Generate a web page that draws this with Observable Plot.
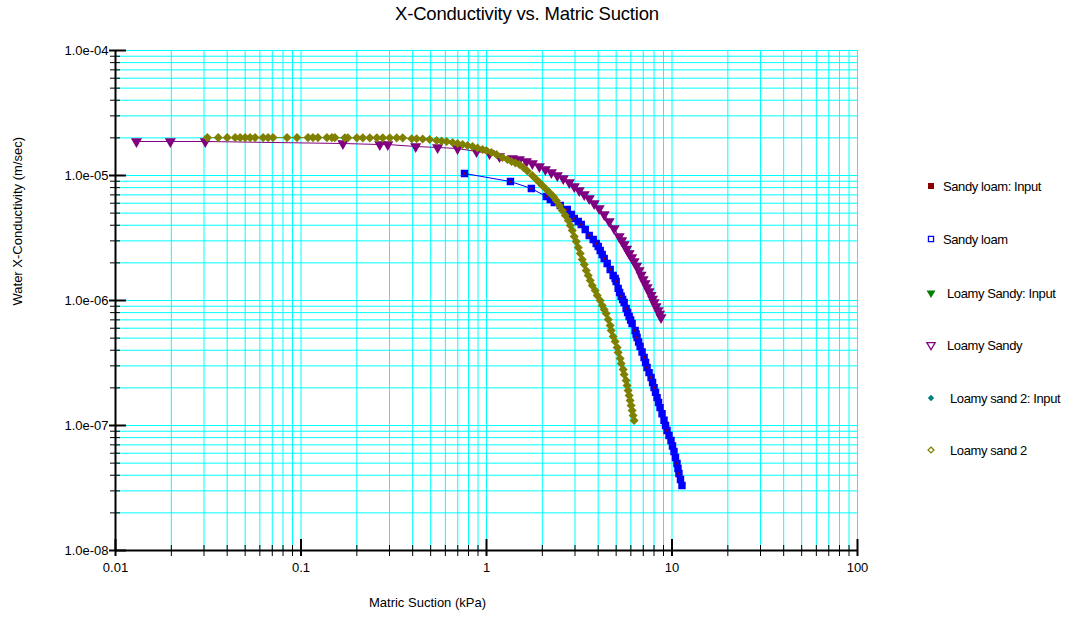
<!DOCTYPE html>
<html>
<head>
<meta charset="utf-8">
<script src="https://cdn.jsdelivr.net/npm/d3@7"></script>
<script src="https://cdn.jsdelivr.net/npm/@observablehq/plot@0.6"></script>
<style>
  html, body { margin: 0; padding: 0; background: #ffffff; }
  #wrap { position: relative; width: 1068px; height: 620px; font-family: "Liberation Sans", Arial, sans-serif; color: #000; }
  #chart { position: absolute; left: 0; top: 0; }
  #title { position: absolute; left: -7px; top: 4px; width: 1068px; text-align: center; font-size: 18.5px; line-height: 20px; letter-spacing: -0.2px; }
  #legend { position: absolute; left: 900px; top: 160px; overflow: visible; }
</style>
</head>
<body>
<div id="wrap">
  <div id="chart"></div>
  <div id="title"></div>
  <svg id="legend" width="168" height="320"></svg>
</div>
<script>
// ---------- texts ----------
const chartTitle = "X-Conductivity vs. Matric Suction";
const xAxisTitle = "Matric Suction (kPa)";
const yAxisTitle = "Water X-Conductivity (m/sec)";

// ---------- ticks ----------
const xMajorTicks = [0.01, 0.1, 1, 10, 100];
const xTickLabels = ["0.01", "0.1", "1", "10", "100"];
const yMajorTicks = [1e-8, 1e-7, 1e-6, 1e-5, 1e-4];
const yTickLabels = ["1.0e-08", "1.0e-07", "1.0e-06", "1.0e-05", "1.0e-04"];
const minorMultipliers = [2, 3, 4, 5, 6, 7, 8, 9];

// ---------- series ----------
const seriesNames = ["Sandy loam: Input", "Sandy loam", "Loamy Sandy: Input", "Loamy Sandy", "Loamy sand 2: Input", "Loamy sand 2"];
const seriesColors = ["#8b0000", "#0000ff", "#008000", "#800080", "#008080", "#808000"];

// Sandy loam (computed)
const sandyLoamSuction = [0.761, 1.346, 1.745, 2.102, 2.208, 2.321, 2.499, 2.726, 2.864, 2.972, 3.123, 3.242, 3.406, 3.579, 3.761, 3.903, 4.001, 4.101, 4.204, 4.309, 4.472, 4.642, 4.817, 4.938, 5.000, 5.126, 5.221, 5.319, 5.418, 5.520, 5.659, 5.764, 5.873, 5.983, 6.094, 6.325, 6.404, 6.483, 6.605, 6.730, 6.897, 7.071, 7.203, 7.338, 7.521, 7.713, 7.856, 8.004, 8.152, 8.307, 8.461, 8.621, 8.837, 9.057, 9.228, 9.400, 9.636, 9.876, 10.06, 10.25, 10.44, 10.64, 10.77, 10.90, 11.11, 11.32];
const sandyLoamK = [1.038e-5, 8.95e-6, 7.87e-6, 6.79e-6, 6.43e-6, 6.08e-6, 5.75e-6, 5.35e-6, 4.88e-6, 4.53e-6, 4.29e-6, 4.06e-6, 3.70e-6, 3.31e-6, 3.08e-6, 2.86e-6, 2.70e-6, 2.51e-6, 2.33e-6, 2.17e-6, 1.98e-6, 1.77e-6, 1.585e-6, 1.50e-6, 1.42e-6, 1.25e-6, 1.16e-6, 1.08e-6, 1.02e-6, 9.64e-7, 8.63e-7, 8.02e-7, 7.45e-7, 6.98e-7, 6.55e-7, 5.75e-7, 5.40e-7, 5.06e-7, 4.66e-7, 4.29e-7, 3.87e-7, 3.50e-7, 3.19e-7, 2.91e-7, 2.65e-7, 2.42e-7, 2.21e-7, 2.01e-7, 1.84e-7, 1.67e-7, 1.53e-7, 1.39e-7, 1.24e-7, 1.10e-7, 1.0e-7, 9.12e-8, 8.32e-8, 7.59e-8, 6.86e-8, 6.19e-8, 5.55e-8, 4.97e-8, 4.53e-8, 4.13e-8, 3.70e-8, 3.31e-8];

// Sandy loam: Input
const sandyLoamInputSuction = [0.761, 1.346, 1.745, 2.102, 2.321, 2.726, 2.972, 3.242, 3.579, 3.903, 4.309, 4.642, 5.000, 5.319, 5.659, 6.325, 6.483, 7.071, 7.338, 7.713, 8.004, 9.400, 10.64, 10.90];
const sandyLoamInputK = [1.038e-5, 8.95e-6, 7.87e-6, 6.79e-6, 6.08e-6, 5.35e-6, 4.53e-6, 4.06e-6, 3.31e-6, 2.86e-6, 2.17e-6, 1.77e-6, 1.42e-6, 1.08e-6, 8.63e-7, 5.75e-7, 5.06e-7, 3.50e-7, 2.91e-7, 2.42e-7, 2.01e-7, 9.12e-8, 4.97e-8, 4.13e-8];

// Loamy Sandy (computed)
const loamySandySuction = [0.01297, 0.01975, 0.03048, 0.1682, 0.2659, 0.2936, 0.4152, 0.5452, 0.6983, 0.8835, 1.038, 1.175, 1.380, 1.504, 1.641, 1.767, 1.927, 2.076, 2.236, 2.408, 2.594, 2.795, 2.972, 3.162, 3.364, 3.579, 3.807, 4.050, 4.309, 4.584, 4.877, 5.189, 5.352, 5.520, 5.694, 5.873, 6.058, 6.247, 6.444, 6.646, 6.813, 6.984, 7.159, 7.338, 7.521, 7.713, 7.856, 8.004, 8.203, 8.409, 8.567, 8.727];
const loamySandyK = [1.871e-5, 1.871e-5, 1.871e-5, 1.803e-5, 1.770e-5, 1.770e-5, 1.706e-5, 1.675e-5, 1.644e-5, 1.556e-5, 1.500e-5, 1.419e-5, 1.368e-5, 1.343e-5, 1.294e-5, 1.247e-5, 1.180e-5, 1.117e-5, 1.057e-5, 1.0e-5, 9.46e-6, 8.79e-6, 8.17e-6, 7.59e-6, 7.05e-6, 6.55e-6, 5.97e-6, 5.45e-6, 4.88e-6, 4.29e-6, 3.77e-6, 3.25e-6, 3.02e-6, 2.81e-6, 2.58e-6, 2.38e-6, 2.21e-6, 2.05e-6, 1.89e-6, 1.74e-6, 1.60e-6, 1.47e-6, 1.37e-6, 1.27e-6, 1.18e-6, 1.10e-6, 1.03e-6, 9.64e-7, 8.95e-7, 8.32e-7, 7.80e-7, 7.31e-7];

// Loamy Sandy: Input
const loamySandyInputSuction = [0.01297, 0.01975, 0.03048, 0.1682, 0.2936, 0.5452, 0.8835, 1.175, 1.504, 1.927, 2.408, 2.972, 3.579, 4.309, 5.189, 6.247, 7.338, 8.727];
const loamySandyInputK = [1.871e-5, 1.871e-5, 1.871e-5, 1.803e-5, 1.770e-5, 1.675e-5, 1.556e-5, 1.419e-5, 1.343e-5, 1.180e-5, 1.0e-5, 8.17e-6, 6.55e-6, 4.88e-6, 3.25e-6, 2.05e-6, 1.27e-6, 7.31e-7];

// Loamy sand 2 (computed)
const loamySand2Suction = [0.03125, 0.03580, 0.04001, 0.04417, 0.04699, 0.05000, 0.05318, 0.05657, 0.06247, 0.06646, 0.07068, 0.08408, 0.09517, 0.1091, 0.1160, 0.1234, 0.1379, 0.1468, 0.1523, 0.1724, 0.1789, 0.2000, 0.2154, 0.2349, 0.2563, 0.2760, 0.3010, 0.3281, 0.3535, 0.3951, 0.4203, 0.4529, 0.4938, 0.5385, 0.5728, 0.6094, 0.6566, 0.6983, 0.7429, 0.7902, 0.8409, 0.8946, 0.9517, 1.000, 1.064, 1.132, 1.219, 1.297, 1.363, 1.432, 1.504, 1.581, 1.661, 1.767, 1.857, 1.927, 2.000, 2.102, 2.182, 2.293, 2.379, 2.469, 2.562, 2.659, 2.760, 2.829, 2.900, 2.972, 3.046, 3.123, 3.202, 3.281, 3.364, 3.448, 3.535, 3.623, 3.714, 3.855, 3.952, 4.101, 4.204, 4.309, 4.417, 4.528, 4.642, 4.699, 4.817, 4.938, 5.062, 5.125, 5.254, 5.319, 5.452, 5.520, 5.658, 5.728, 5.800, 5.872, 5.946, 6.019, 6.094, 6.170, 6.247];
const loamySand2K = [2.01e-5, 2.01e-5, 2.01e-5, 2.01e-5, 2.01e-5, 2.01e-5, 2.01e-5, 2.01e-5, 2.01e-5, 2.01e-5, 2.01e-5, 2.01e-5, 2.01e-5, 2.01e-5, 2.01e-5, 2.01e-5, 2.01e-5, 2.01e-5, 2.01e-5, 2.0e-5, 2.0e-5, 2.0e-5, 2.0e-5, 2.0e-5, 2.0e-5, 2.0e-5, 2.0e-5, 2.0e-5, 2.0e-5, 1.97e-5, 1.97e-5, 1.96e-5, 1.94e-5, 1.905e-5, 1.888e-5, 1.871e-5, 1.837e-5, 1.803e-5, 1.770e-5, 1.738e-5, 1.706e-5, 1.660e-5, 1.614e-5, 1.585e-5, 1.528e-5, 1.472e-5, 1.393e-5, 1.343e-5, 1.294e-5, 1.259e-5, 1.225e-5, 1.159e-5, 1.086e-5, 1.000e-5, 9.29e-6, 8.79e-6, 8.32e-6, 7.73e-6, 7.31e-6, 6.79e-6, 6.31e-6, 5.75e-6, 5.25e-6, 4.79e-6, 4.37e-6, 3.98e-6, 3.63e-6, 3.25e-6, 2.96e-6, 2.65e-6, 2.38e-6, 2.13e-6, 1.94e-6, 1.74e-6, 1.585e-6, 1.445e-6, 1.318e-6, 1.202e-6, 1.096e-6, 1.000e-6, 9.12e-7, 8.47e-7, 7.87e-7, 7.05e-7, 6.31e-7, 5.75e-7, 5.15e-7, 4.70e-7, 4.21e-7, 3.84e-7, 3.44e-7, 3.13e-7, 2.81e-7, 2.56e-7, 2.29e-7, 2.09e-7, 1.905e-7, 1.738e-7, 1.585e-7, 1.445e-7, 1.318e-7, 1.202e-7, 1.096e-7];

// Loamy sand 2: Input
const loamySand2InputSuction = [0.03125, 0.05000, 0.1091, 0.2000, 0.3010, 0.4938, 0.7902, 1.064, 1.504, 2.000, 2.562, 3.123, 3.714, 4.309, 4.938, 5.520, 6.247];
const loamySand2InputK = [2.01e-5, 2.01e-5, 2.01e-5, 2.0e-5, 2.0e-5, 1.94e-5, 1.738e-5, 1.528e-5, 1.225e-5, 8.32e-6, 5.25e-6, 2.65e-6, 1.318e-6, 8.47e-7, 4.70e-7, 2.56e-7, 1.096e-7];

// ---------- build tables ----------
const toRows = (sx, sk) => sx.map((s, i) => ({s, k: sk[i]}));
const sandyLoam = toRows(sandyLoamSuction, sandyLoamK);
const sandyLoamInput = toRows(sandyLoamInputSuction, sandyLoamInputK);
const loamySandy = toRows(loamySandySuction, loamySandyK);
const loamySandyInput = toRows(loamySandyInputSuction, loamySandyInputK);
const loamySand2 = toRows(loamySand2Suction, loamySand2K);
const loamySand2Input = toRows(loamySand2InputSuction, loamySand2InputK);

const xMinor = xMajorTicks.slice(0, -1).flatMap(t => minorMultipliers.map(m => t * m));
const yMinor = yMajorTicks.slice(0, -1).flatMap(t => minorMultipliers.map(m => t * m));

// custom down-pointing triangle symbol
const triangleDown = {
  draw(context, size) {
    const a = Math.sqrt(4 * size / Math.sqrt(3));
    const h = Math.sqrt(3) / 2 * a;
    context.moveTo(-a / 2, -h / 3);
    context.lineTo(a / 2, -h / 3);
    context.lineTo(0, 2 * h / 3);
    context.closePath();
  }
};

const W = 1068, H = 620;
const mL = 115, mR = 211, mT = 50, mB = 70;
const frameW = W - mL - mR, frameH = H - mT - mB;
const FS = 13;

const plot = Plot.plot({
  width: W,
  height: H,
  marginLeft: mL,
  marginRight: mR,
  marginTop: mT,
  marginBottom: mB,
  x: {type: "log", domain: [0.01, 100], axis: null},
  y: {type: "log", domain: [1e-8, 1e-4], axis: null},
  style: {fontFamily: "'Liberation Sans', Arial, sans-serif", fontSize: "13px", background: "#ffffff", color: "#000000", overflow: "visible"},
  marks: [
    // grid
    Plot.ruleX([...xMajorTicks, ...xMinor], {x: d => d, stroke: "#00ffff", strokeWidth: 1, strokeOpacity: 1}),
    Plot.ruleY([...yMajorTicks, ...yMinor], {y: d => d, stroke: "#00ffff", strokeWidth: 1, strokeOpacity: 1}),

    // Sandy loam (thick squares look solid; input squares show in their centres)
    Plot.line(sandyLoam, {x: "s", y: "k", stroke: seriesColors[1], strokeWidth: 1}),
    Plot.dot(sandyLoam, {x: "s", y: "k", symbol: "square", r: 3.4, fill: seriesColors[1], stroke: seriesColors[1], strokeWidth: 1.4}),
    Plot.dot(sandyLoamInput, {x: "s", y: "k", symbol: "square", r: 1.2, fill: seriesColors[0], stroke: "none"}),

    // Loamy Sandy
    Plot.dot(loamySandyInput, {x: "s", y: "k", symbol: triangleDown, r: 1.8, fill: seriesColors[2], stroke: "none"}),
    Plot.line(loamySandy, {x: "s", y: "k", stroke: seriesColors[3], strokeWidth: 1}),
    Plot.dot(loamySandy, {x: "s", y: "k", symbol: triangleDown, r: 3.3, fill: seriesColors[3], stroke: seriesColors[3], strokeWidth: 1.3}),

    // Loamy sand 2
    Plot.dot(loamySand2Input, {x: "s", y: "k", symbol: "diamond2", r: 1.8, fill: seriesColors[4], stroke: "none"}),
    Plot.line(loamySand2, {x: "s", y: "k", stroke: seriesColors[5], strokeWidth: 1}),
    Plot.dot(loamySand2, {x: "s", y: "k", symbol: "diamond2", r: 3.2, fill: seriesColors[5], stroke: seriesColors[5], strokeWidth: 1.4}),

    // axis lines
    Plot.ruleX([0.01], {x: d => d, stroke: "#000000", strokeWidth: 2}),
    Plot.ruleY([1e-8], {y: d => d, stroke: "#000000", strokeWidth: 2}),

    // x ticks
    Plot.ruleX(xMajorTicks, {x: d => d, insetTop: frameH - 11, insetBottom: -6, stroke: "#000000", strokeWidth: 2}),
    Plot.ruleX(xMinor, {x: d => d, insetTop: frameH - 5, insetBottom: -6, stroke: "#000000", strokeWidth: 1}),
    // y ticks
    Plot.ruleY(yMajorTicks, {y: d => d, insetLeft: -6, insetRight: frameW - 11, stroke: "#000000", strokeWidth: 2}),
    Plot.ruleY(yMinor, {y: d => d, insetLeft: -5, insetRight: frameW - 5, stroke: "#000000", strokeWidth: 1}),

    // tick labels
    Plot.text(yMajorTicks, {y: d => d, text: (d, i) => yTickLabels[i], frameAnchor: "left", textAnchor: "end", dx: -7, fontSize: FS, fill: "#000000"}),
    Plot.text(xMajorTicks, {x: d => d, text: (d, i) => xTickLabels[i], frameAnchor: "bottom", dy: 21, fontSize: FS, fill: "#000000"}),

    // axis titles
    Plot.text([xAxisTitle], {text: d => d, frameAnchor: "bottom", dx: -59, dy: 56, fontSize: FS, fill: "#000000"}),
    Plot.text([yAxisTitle], {text: d => d, frameAnchor: "left", dx: -98, dy: 5, rotate: -90, fontSize: FS, fill: "#000000"})
  ]
});
document.getElementById("chart").appendChild(plot);
document.getElementById("title").textContent = chartTitle;

// ---------- legend ----------
const legendSymbols = [d3.symbolSquare, d3.symbolSquare, triangleDown, triangleDown, d3.symbolDiamond2, d3.symbolDiamond2];
const legendFilled = [true, false, true, false, true, false];
const legendRowY = [26, 79, 133, 185, 238, 290];
const legendTextX = [43, 43, 47, 47, 50, 50];
const legendSizes = [36, 26, 34, 30, 26, 22];
const lg = d3.select("#legend");
seriesNames.forEach((name, i) => {
  lg.append("path")
    .attr("transform", `translate(31,${legendRowY[i]})`)
    .attr("d", d3.symbol(legendSymbols[i], legendSizes[i])())
    .attr("fill", legendFilled[i] ? seriesColors[i] : "none")
    .attr("stroke", legendFilled[i] ? "none" : seriesColors[i])
    .attr("stroke-width", 1.3);
  lg.append("text")
    .attr("x", legendTextX[i])
    .attr("y", legendRowY[i])
    .attr("dy", "0.35em")
    .attr("font-family", "'Liberation Sans', Arial, sans-serif")
    .attr("font-size", FS)
    .attr("letter-spacing", "-0.4")
    .attr("fill", "#000000")
    .text(name);
});
</script>
</body>
</html>
